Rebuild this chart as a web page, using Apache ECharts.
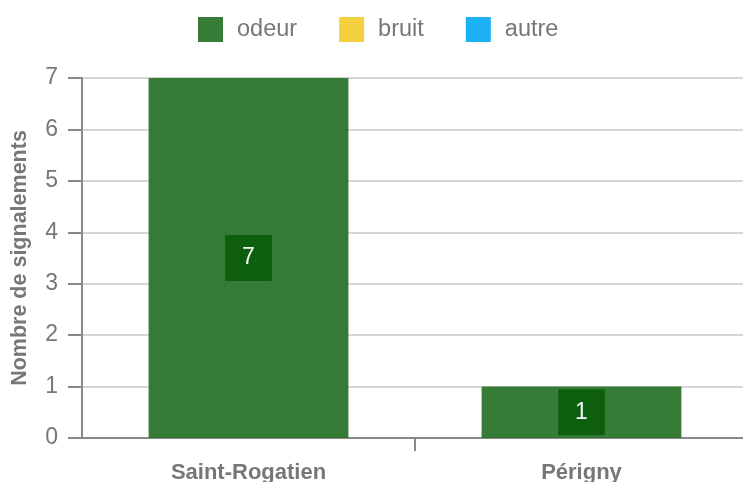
<!DOCTYPE html>
<html><head><meta charset="utf-8">
<script src="https://cdn.jsdelivr.net/npm/echarts@6/dist/echarts.min.js"></script>
<style>html,body{margin:0;padding:0;background:#fff}#c{width:743px;height:482px}</style>
</head><body><div id="c"></div>
<script>
const categories = ["Saint-Rogatien", "Périgny"];
const odeur = [7, 1];
const bruit = [0, 0];
const autre = [0, 0];
const yTicks = [0, 1, 2, 3, 4, 5, 6, 7];

const font = "'Liberation Sans', Arial, sans-serif";
const chart = echarts.init(document.getElementById('c'), null, {renderer: 'canvas'});
chart.setOption({
  animation: false,
  textStyle: {fontFamily: font},
  legend: {
    top: 12, left: 193, padding: 5,
    itemWidth: 25, itemHeight: 25, itemGap: 42,
    icon: 'rect',
    textStyle: {fontSize: 23.5, color: '#777', fontFamily: font, padding: [0,0,0,9]},
    data: ['odeur', 'bruit', 'autre']
  },
  grid: {left: 82, right: -5, top: 78, bottom: 44, containLabel: false, outerBoundsMode: 'none'},
  xAxis: [{
    type: 'category', data: categories,
    axisLine: {lineStyle: {color: '#888', width: 2}},
    axisTick: {show: false},
    axisLabel: {fontSize: 22, fontWeight: 'bold', color: '#777', margin: 24, fontFamily: font}
  }, {
    type: 'value', position: 'bottom', min: 0, max: categories.length, interval: 1,
    axisLine: {show: false}, axisLabel: {show: false}, splitLine: {show: false},
    axisTick: {show: true, length: 13, customValues: [1], lineStyle: {color: '#888', width: 2}}
  }],
  yAxis: {
    type: 'value', min: yTicks[0], max: yTicks[yTicks.length - 1], interval: 1,
    name: 'Nombre de signalements', nameLocation: 'middle', nameGap: 51,
    nameTextStyle: {fontSize: 21.5, fontWeight: 'bold', color: '#777', fontFamily: font},
    axisLine: {show: true, lineStyle: {color: '#888', width: 2}},
    axisTick: {show: true, length: 14, lineStyle: {color: '#888', width: 2}},
    axisLabel: {fontSize: 23, color: '#777', margin: 24, fontFamily: font},
    splitLine: {lineStyle: {color: '#d6d6d6', width: 2}}
  },
  series: [
    {name: 'odeur', type: 'bar', stack: 's', data: odeur, barWidth: '60%',
     itemStyle: {color: '#2f772e', opacity: 0.96}, z: 1,
     label: {show: true, position: 'inside', color: '#fff', fontSize: 23, fontFamily: font,
             backgroundColor: '#0d5e0d', padding: [12, 17, 11, 17]}},
    {name: 'bruit', type: 'bar', stack: 's', data: bruit, barWidth: '60%',
     itemStyle: {color: '#f4d03f'}, label: {show: false}},
    {name: 'autre', type: 'bar', stack: 's', data: autre, barWidth: '60%',
     itemStyle: {color: '#1cb0f6'}, label: {show: false}}
  ]
});
</script></body></html>
